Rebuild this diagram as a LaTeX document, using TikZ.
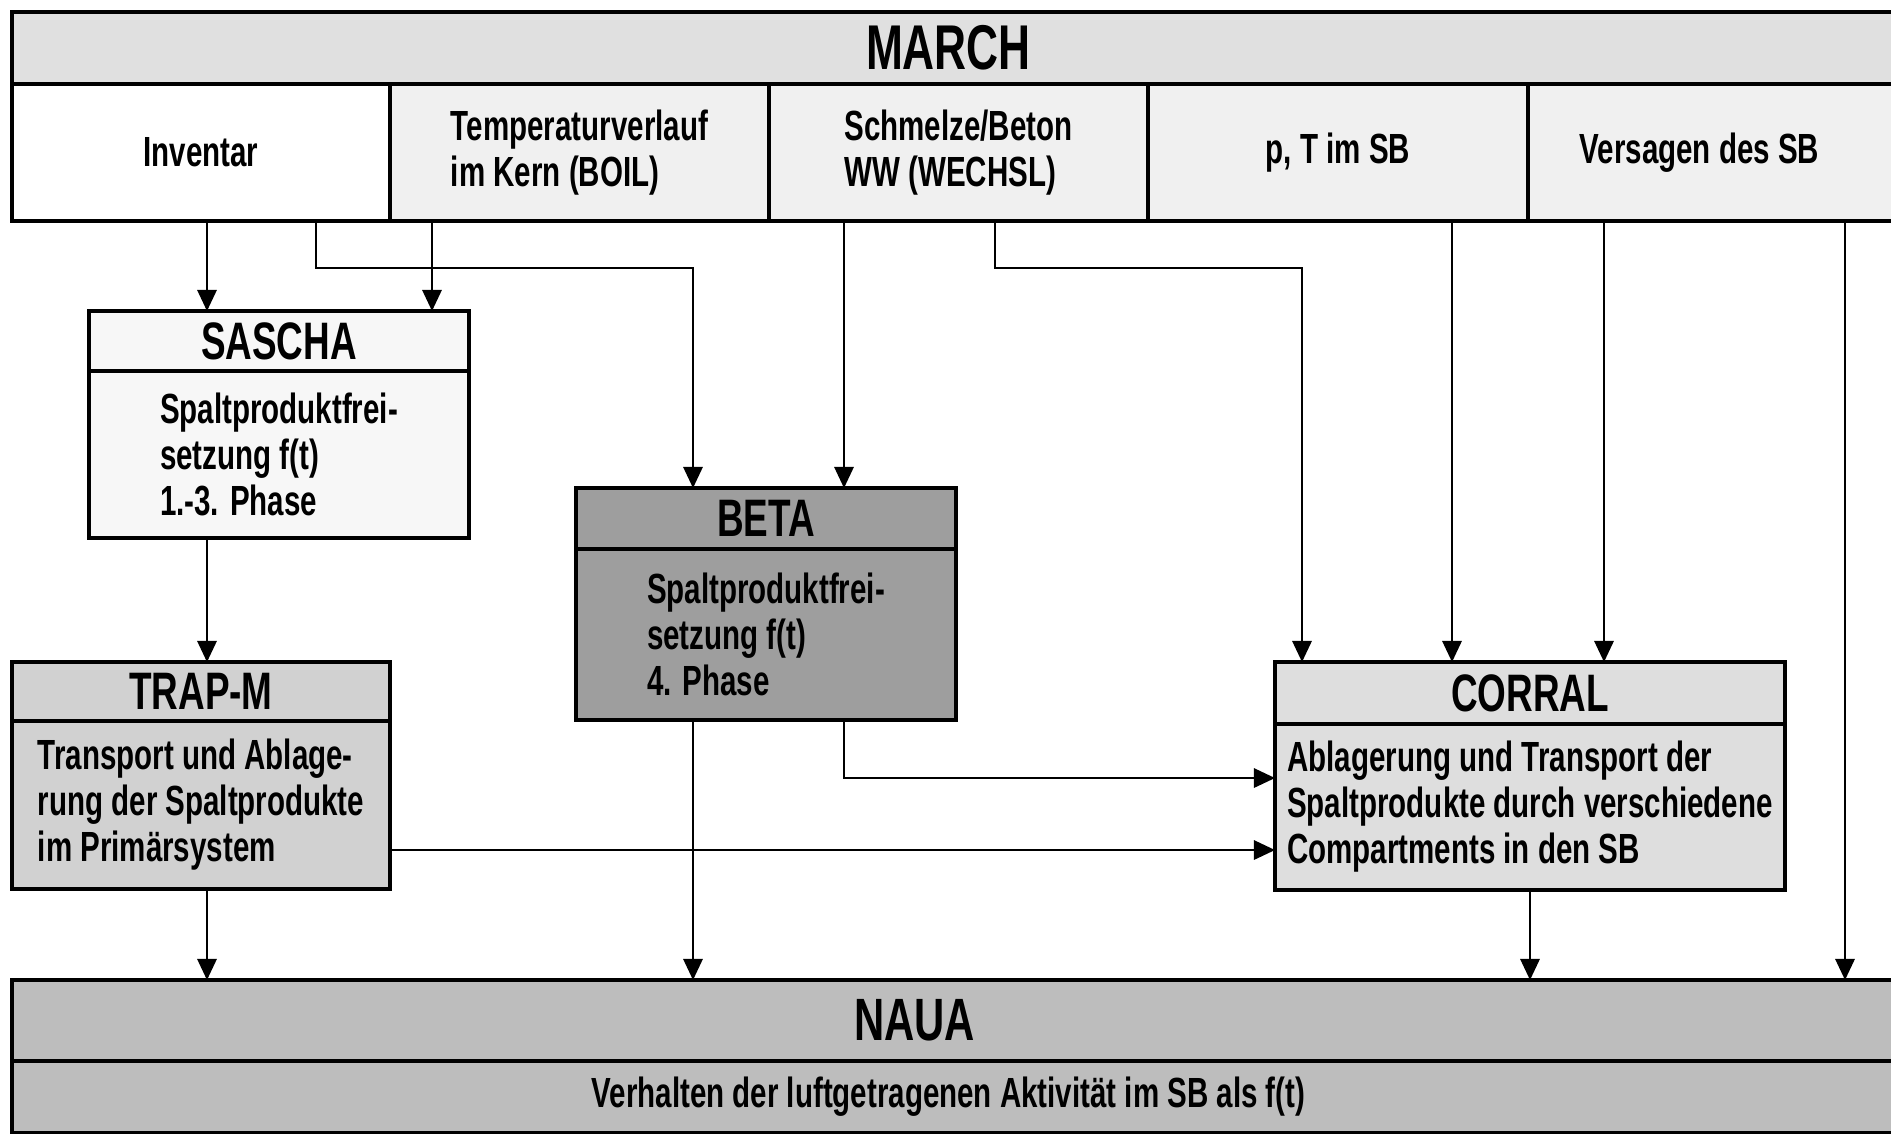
\documentclass[tikz,border=0pt]{standalone}
\usepackage{fontspec}
\setmainfont{Liberation Sans}[FakeStretch=0.7]
\usetikzlibrary{positioning}
\usetikzlibrary{arrows.meta}

\definecolor{marchgray}{gray}{0.88}
\definecolor{cellgray}{gray}{0.94}
\definecolor{saschagray}{gray}{0.97}
\definecolor{trapgray}{gray}{0.82}
\definecolor{betagray}{gray}{0.62}
\definecolor{corralgray}{gray}{0.87}
\definecolor{nauagray}{gray}{0.74}

\begin{document}
\begin{tikzpicture}[
  box/.style={draw, line width=1.1pt, inner sep=0pt, outer sep=0pt},
  hd/.style={box, font=\fontsize{15}{16}\selectfont\bfseries},
  bd/.style={box, align=left, font=\fontsize{12}{13.1}\selectfont\bfseries},
  flow/.style={line width=0.6pt, -{Triangle[length=6pt,width=5.5pt]}}]
\path[use as bounding box] (0,0) rectangle (18.91,-11.33);

% MARCH and its outputs
\node[hd, anchor=north west, fill=marchgray, minimum width=18.95cm, minimum height=0.72cm,
  font=\fontsize{18}{20}\selectfont\bfseries] (march) at (0.12,-0.12) {\hspace*{-0.22cm}MARCH};
\node[bd, anchor=north west, fill=white, minimum width=3.78cm, minimum height=1.37cm] (inv) at (march.south west) {Inventar};
\node[bd, right=0pt of inv, fill=cellgray, minimum width=3.79cm, minimum height=1.37cm] (temp) {Temperaturverlauf\\im Kern (BOIL)};
\node[bd, right=0pt of temp, fill=cellgray, minimum width=3.79cm, minimum height=1.37cm] (schm) {Schmelze/Beton\\WW (WECHSL)};
\node[bd, right=0pt of schm, fill=cellgray, minimum width=3.80cm, minimum height=1.37cm] (pt) {p, T im SB};
\node[bd, right=0pt of pt, fill=cellgray, minimum width=3.79cm, minimum height=1.37cm] (vers) {Versagen des SB\hspace*{0.36cm}};

% SASCHA
\node[hd, anchor=north west, fill=saschagray, minimum width=3.80cm, minimum height=0.60cm] (sascha) at (0.89,-3.11) {SASCHA};
\node[bd, below=0pt of sascha, fill=saschagray, minimum width=3.80cm, minimum height=1.67cm] (saschaB) {Spaltproduktfrei-\\setzung f(t)\\1.-3. Phase};

% TRAP-M
\node[hd, anchor=north west, fill=trapgray, minimum width=3.78cm, minimum height=0.59cm] (trap) at (0.12,-6.62) {TRAP-M};
\node[bd, below=0pt of trap, fill=trapgray, minimum width=3.78cm, minimum height=1.68cm] (trapB) {Transport und Ablage-\\rung der Spaltprodukte\\im Primärsystem};

% BETA
\node[hd, anchor=north west, fill=betagray, minimum width=3.80cm, minimum height=0.61cm] (beta) at (5.76,-4.88) {BETA};
\node[bd, below=0pt of beta, fill=betagray, minimum width=3.80cm, minimum height=1.71cm] (betaB) {Spaltproduktfrei-\\setzung f(t)\\4. Phase};

% CORRAL
\node[hd, anchor=north west, fill=corralgray, minimum width=5.10cm, minimum height=0.62cm] (corral) at (12.75,-6.62) {CORRAL};
\node[bd, below=0pt of corral, fill=corralgray, minimum width=5.10cm, minimum height=1.66cm] (corralB) {Ablagerung und Transport der\\Spaltprodukte durch verschiedene\\Compartments in den SB};

% NAUA
\node[hd, anchor=north west, fill=nauagray, minimum width=18.95cm, minimum height=0.81cm,
  font=\fontsize{17}{19}\selectfont\bfseries] (naua) at (0.12,-9.80) {\hspace*{-0.90cm}NAUA};
\node[bd, below=0pt of naua, fill=nauagray, minimum width=18.95cm, minimum height=0.72cm] (nauaB) {\hspace*{-0.22cm}Verhalten der luftgetragenen Aktivität im SB als f(t)};

% connectors
\coordinate (jBeta) at (6.93,-2.68);
\coordinate (jCorral) at (13.02,-2.68);
\draw[flow] (2.07,0 |- inv.south) -- (2.07,0 |- sascha.north);
\draw[flow] (3.16,0 |- inv.south) |- (jBeta) -- (jBeta |- beta.north);
\draw[flow] (4.32,0 |- temp.south) -- (4.32,0 |- sascha.north);
\draw[flow] (8.44,0 |- schm.south) -- (8.44,0 |- beta.north);
\draw[flow] (9.95,0 |- schm.south) |- (jCorral) -- (jCorral |- corral.north);
\draw[flow] (14.52,0 |- pt.south) -- (14.52,0 |- corral.north);
\draw[flow] (16.04,0 |- vers.south) -- (16.04,0 |- corral.north);
\draw[flow] (18.45,0 |- vers.south) -- (18.45,0 |- naua.north);

\draw[flow] (saschaB.south -| 2.07,0) -- (2.07,0 |- trap.north);
\draw[flow] (2.07,0 |- trapB.south) -- (2.07,0 |- naua.north);
\draw[flow] (0,-8.50 -| trapB.east) -- (0,-8.50 -| corralB.west);
\draw[flow] (6.93,0 |- betaB.south) -- (6.93,0 |- naua.north);
\draw[flow] (8.44,0 |- betaB.south) |- (0,-7.78 -| corralB.west);
\draw[flow] (corralB.south) -- (corralB.south |- naua.north);
\end{tikzpicture}
\end{document}
